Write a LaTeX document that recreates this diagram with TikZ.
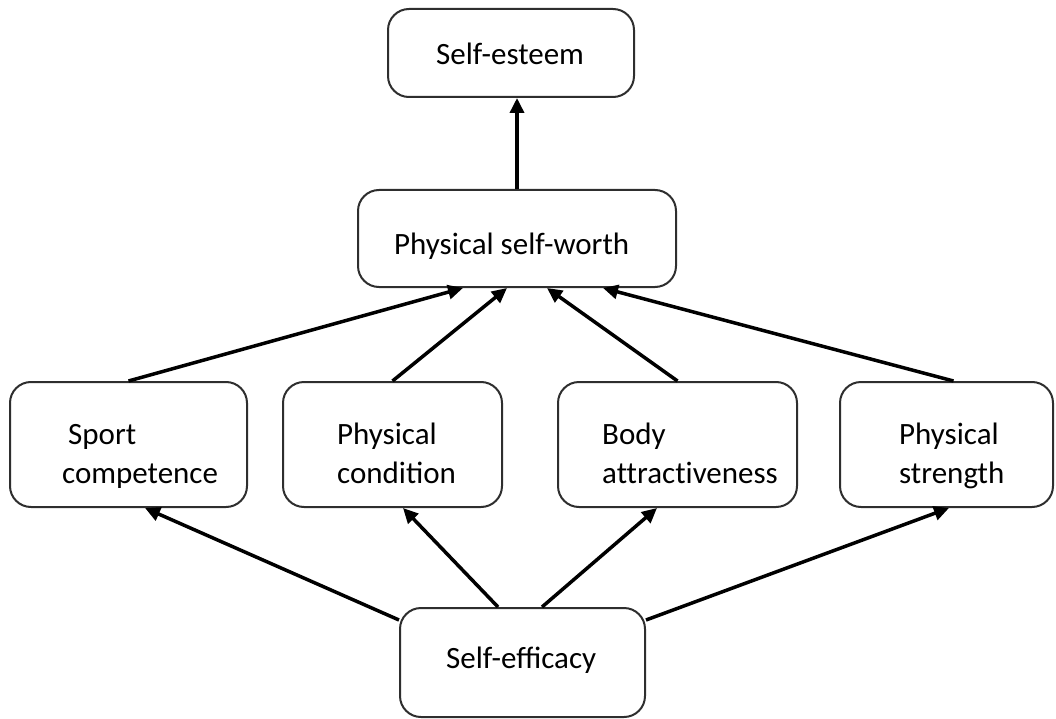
\documentclass[tikz,border=0pt]{standalone}
\usepackage{fontspec}
\setmainfont{Carlito}
\usetikzlibrary{arrows.meta}
\definecolor{boxline}{HTML}{2E2E2E}
\begin{document}
\begin{tikzpicture}[x=1pt,y=-1pt,
  box/.style={draw=boxline, line width=2pt, rounded corners=21pt, inner sep=0pt,
              minimum width=#1, fill=white},
  txt/.style={inner sep=0pt, anchor=base west, font=\fontsize{31}{37}\selectfont},
  conn/.style={line width=3.5pt, -{Triangle[length=15pt,width=14pt]}, shorten >=0pt}
]
\useasboundingbox (0,0) rectangle (1056,719);

% boxes
\node[box=246pt, minimum height=88pt] (est) at (511,53) {};
\node[box=318pt, minimum height=97pt] (psw) at (517,238.5) {};
\node[box=237pt, minimum height=125pt] (sc) at (128.5,444.5) {};
\node[box=219pt, minimum height=125pt] (pc) at (392.5,444.5) {};
\node[box=239pt, minimum height=125pt] (ba) at (677.5,444.5) {};
\node[box=213pt, minimum height=125pt] (ps) at (946.5,444.5) {};
\node[box=245pt, minimum height=109pt] (se) at (522.5,662.5) {};

% texts
\node[txt] (est-t) at (436,65) {Self-esteem};
\node[txt] (psw-t) at (394,254) {Physical self-worth};
\node[txt] (sc-t1) at (68,444) {Sport};
\node[txt] (sc-t2) at (62,483) {competence};
\node[txt] (pc-t1) at (337,444) {Physical};
\node[txt] (pc-t2) at (337,483) {condition};
\node[txt] (ba-t1) at (602,444) {Body};
\node[txt] (ba-t2) at (602,483) {\addfontfeatures{Ligatures=NoCommon}attractiveness};
\node[txt] (ps-t1) at (899,444) {Physical};
\node[txt] (ps-t2) at (899,483) {strength};
\node[txt] (se-t) at (446,668) {Self-efficacy};

% connectors
\draw[conn] (psw.north) -- (psw.north |- est.south);

\draw[conn] (sc.north) -- ([xshift=-54pt]psw.south);
\draw[conn] (pc.north) -- ([xshift=-10pt]psw.south);
\draw[conn] (ba.north) -- ([xshift=30pt]psw.south);
\draw[conn] ([xshift=7pt]ps.north) -- ([xshift=86pt]psw.south);

\draw[conn] ([yshift=42.5pt]se.west) -- ([xshift=16.5pt]sc.south);
\draw[conn] ([xshift=-24.5pt]se.north) -- ([xshift=10.5pt]pc.south);
\draw[conn] ([xshift=19.5pt]se.north) -- ([xshift=-20.5pt]ba.south);
\draw[conn] ([yshift=42.5pt]se.east) -- ([xshift=2.5pt]ps.south);
\end{tikzpicture}
\end{document}
